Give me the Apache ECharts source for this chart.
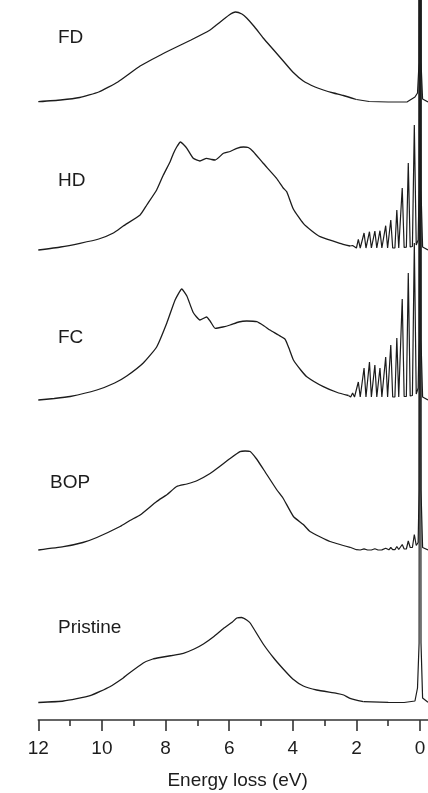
<!DOCTYPE html>
<html>
<head>
<meta charset="utf-8">
<script src="https://cdn.jsdelivr.net/npm/echarts@6/dist/echarts.min.js"></script>
<style>
  html, body { margin: 0; padding: 0; background: #fff; }
  #chart { width: 428px; height: 793px; }
</style>
</head>
<body>
<div id="chart"></div>
<script>
// ---- Data (energy loss in eV, intensity in arbitrary units above each spectrum's baseline) ----
const spectrumNames = ['FD', 'HD', 'FC', 'BOP', 'Pristine'];
const spectrumOffsets = [618, 470, 320, 169.5, 17];

// broad plasmon / valence-loss part
const FD_E = [12, 11.3, 10.7, 10.1, 9.5, 8.8, 8.1, 7.85, 7.2, 6.6, 6.4, 6.0, 5.8, 5.6, 5.45, 5.2, 4.93, 4.6, 4.3, 4.0, 3.67, 3.3, 3.04, 2.72, 2.41, 2.0];
const FD_I = [0.3, 2, 4.5, 10, 20, 36, 48, 52, 62, 72, 77, 87, 90, 88, 84, 75, 64, 52, 41, 30, 21, 15, 12, 9, 6.5, 2.5];
const HD_E = [12, 11.3, 10.69, 10.1, 9.64, 9.33, 8.8, 8.59, 8.28, 8.07, 7.86, 7.76, 7.65, 7.53, 7.42, 7.33, 7.13, 6.92, 6.71, 6.55, 6.44, 6.18, 5.97, 5.76, 5.55, 5.4, 5.24, 4.93, 4.51, 4.3, 4.19, 3.98, 3.67, 3.4, 3.14, 2.52, 2.2];
const HD_I = [0, 3, 6.7, 11, 17, 24, 35, 45, 60, 75, 88, 96, 103, 108, 105, 101.7, 91.7, 89, 91.7, 90.5, 90, 96.7, 98.5, 101.7, 103, 102.5, 98.3, 86.7, 71.7, 62, 58.3, 40.7, 26.6, 19, 13.3, 6.7, 4];
const FC_E = [12, 11.5, 11.0, 10.16, 9.6, 9.22, 8.7, 8.28, 7.96, 7.7, 7.49, 7.33, 7.13, 6.92, 6.71, 6.6, 6.44, 6.2, 5.97, 5.7, 5.45, 5.13, 4.9, 4.72, 4.45, 4.24, 4.1, 3.98, 3.75, 3.56, 3.04, 2.6, 2.25];
const FC_I = [0, 1.5, 3.5, 10, 17, 24, 37, 53, 77, 100, 111, 104, 87.5, 80, 83, 79, 71.7, 73, 75, 78, 79, 78.3, 74, 70, 65, 60.7, 50, 40, 30, 23.3, 13.3, 7.5, 4.5];
const BOP_E = [12, 11.21, 10.6, 10.16, 9.43, 9.12, 8.8, 8.28, 7.95, 7.65, 7.33, 7.0, 6.6, 6.3, 5.97, 5.66, 5.5, 5.34, 5.15, 4.93, 4.51, 4.3, 3.98, 3.67, 3.46, 2.83, 2.2];
const BOP_I = [0.5, 3.8, 8, 13, 24, 30, 35.5, 49, 56, 64, 66.5, 70, 77, 84, 92, 98.8, 99.5, 99, 92, 81.5, 61, 52, 34, 26, 19, 9, 3.2];
const PR_E = [12, 11.21, 10.37, 9.75, 9.33, 9.22, 8.7, 8.4, 8.17, 7.8, 7.44, 7.1, 6.81, 6.5, 6.18, 5.9, 5.76, 5.61, 5.45, 5.34, 4.93, 4.6, 4.3, 4.0, 3.67, 3.25, 2.62, 2.4, 2.2, 1.78];
const PR_I = [0.5, 2, 7.3, 16.3, 25, 28, 40, 44, 45.5, 47.5, 49.7, 54, 59, 66, 74.5, 81, 85, 85.5, 83, 80, 59, 45, 34, 24, 17, 13, 9.7, 8, 4.7, 1.3];

// low-loss part: vibrational peaks + zero-loss peak
const FD_VE = [2.0, 1.6, 1.0, 0.4, 0.16, 0.08, 0.03, 0, -0.03, -0.08, -0.25];
const FD_VI = [2.5, 0.5, 0, 0.2, 5, 9, 40, 1500, 40, 3, 0];
const HD_VE = [2.2, 2.16, 2.12, 2.08, 2.0, 1.94, 1.88, 1.82, 1.76, 1.7, 1.65, 1.59, 1.53, 1.48, 1.42, 1.36, 1.32, 1.26, 1.2, 1.14, 1.08, 1.02, 0.98, 0.92, 0.86, 0.79, 0.73, 0.67, 0.62, 0.56, 0.5, 0.43, 0.37, 0.31, 0.24, 0.18, 0.12, 0.06, 0.03, 0, -0.03, -0.08, -0.25];
const HD_VI = [4, 3, 4.5, 2.5, 2, 10.7, 2, 2, 17, 2, 2, 18.3, 2, 2, 19, 2, 2, 19.3, 2, 2, 24.3, 2, 2, 30, 2, 2, 40, 2, 2.2, 62, 2.5, 2.8, 87, 3, 3.5, 125, 5, 10, 60, 1500, 60, 3, 0];
const FC_VE = [2.25, 2.18, 2.12, 2.06, 2.0, 1.94, 1.88, 1.82, 1.76, 1.7, 1.65, 1.59, 1.53, 1.48, 1.42, 1.36, 1.32, 1.26, 1.2, 1.14, 1.08, 1.02, 0.98, 0.92, 0.86, 0.79, 0.73, 0.67, 0.62, 0.56, 0.5, 0.43, 0.37, 0.31, 0.24, 0.18, 0.12, 0.06, 0.03, 0, -0.03, -0.08, -0.25];
const FC_VI = [4.5, 3, 7, 3, 3, 18, 3, 3, 32, 3, 3, 38, 3, 3, 35, 3, 3, 32, 3, 3, 43, 3, 3, 55, 3, 3, 62, 3, 3, 101, 3.5, 3.5, 127, 4, 4.5, 157, 6, 12, 60, 1500, 60, 3, 0];
const BOP_VE = [2.2, 2.0, 1.94, 1.88, 1.82, 1.76, 1.7, 1.65, 1.59, 1.53, 1.48, 1.42, 1.36, 1.32, 1.26, 1.2, 1.14, 1.08, 1.02, 0.98, 0.92, 0.86, 0.79, 0.73, 0.67, 0.62, 0.56, 0.5, 0.43, 0.37, 0.31, 0.24, 0.18, 0.12, 0.06, 0.03, 0, -0.03, -0.08, -0.25];
const BOP_VI = [3.2, 0.8, 1.6, 0.5, 0.5, 1.6, 0.5, 0.5, 1.7, 0.5, 0.5, 1.8, 0.5, 0.5, 2, 0.6, 0.6, 2.3, 0.7, 0.7, 3, 0.8, 0.8, 4, 1, 1, 6, 1.5, 1.5, 9.5, 3, 3, 16, 5, 8, 60, 1500, 60, 3, 0.5];
const PR_VE = [1.78, 1.0, 0.5, 0.16, 0.08, 0.03, 0, -0.03, -0.08, -0.25];
const PR_VI = [1.3, 0.7, 0.5, 2, 15, 60, 1500, 60, 5, 0.7];

const majorTicks = [0, 2, 4, 6, 8, 10, 12];
const minorTicks = [1, 3, 5, 7, 9, 11];
const xTitle = 'Energy loss (eV)';

// ---- Build ----
const broad = [[FD_E, FD_I], [HD_E, HD_I], [FC_E, FC_I], [BOP_E, BOP_I], [PR_E, PR_I]];
const fine = [[FD_VE, FD_VI], [HD_VE, HD_VI], [FC_VE, FC_VI], [BOP_VE, BOP_VI], [PR_VE, PR_VI]];
const labelY = [38, 181, 337.5, 482.5, 627.5];
const labelX = [58, 58, 58, 50, 58];

const FONT = '"Liberation Sans", Arial, Helvetica, sans-serif';
const INK = '#1c1c1c';

function pairs(E, I, off) { return E.map((e, i) => [e, I[i] + off]); }

const series = [];
spectrumNames.forEach((name, k) => {
  const off = spectrumOffsets[k];
  series.push({
    type: 'line', name: name, data: pairs(broad[k][0], broad[k][1], off),
    showSymbol: false, smooth: 0.15,
    lineStyle: { color: INK, width: 1.3 }, silent: true, animation: false
  });
  series.push({
    type: 'line', name: name + ' low-loss', data: pairs(fine[k][0], fine[k][1], off),
    showSymbol: false, smooth: false,
    lineStyle: { color: INK, width: 1.2 }, silent: true, animation: false
  });
});

const chart = echarts.init(document.getElementById('chart'), null, { renderer: 'canvas' });
chart.setOption({
  animation: false,
  backgroundColor: '#fff',
  grid: { left: 38.3, right: 0, top: 0, bottom: 73, containLabel: false, outerBoundsMode: 'none' },
  xAxis: [
    {
      type: 'value', inverse: true, min: -0.25, max: 12,
      axisLine: { show: true, onZero: false, lineStyle: { color: '#333', width: 1.6 } },
      axisTick: { show: true, customValues: majorTicks, length: 11, lineStyle: { color: '#333', width: 1.6 } },
      axisLabel: { show: true, customValues: majorTicks, fontSize: 19, margin: 19, color: INK, fontFamily: FONT, hideOverlap: false },
      splitLine: { show: false },
      name: xTitle, nameLocation: 'middle', nameGap: 51,
      nameTextStyle: { fontSize: 19, color: INK, fontFamily: FONT, padding: [0, 0, 0, 9] }
    },
    {
      type: 'value', inverse: true, min: -0.25, max: 12, position: 'bottom',
      axisLine: { show: false },
      axisTick: { show: true, customValues: minorTicks, length: 6, lineStyle: { color: '#333', width: 1.6 } },
      axisLabel: { show: false },
      splitLine: { show: false }
    }
  ],
  yAxis: { type: 'value', min: 0, max: 720, show: false },
  series: series,
  graphic: spectrumNames.map((n, k) => ({
    type: 'text', x: labelX[k], y: labelY[k], silent: true,
    style: { text: n, fontSize: 19, fontFamily: FONT, fill: INK, verticalAlign: 'middle', align: 'left' }
  }))
});
</script>
</body>
</html>
